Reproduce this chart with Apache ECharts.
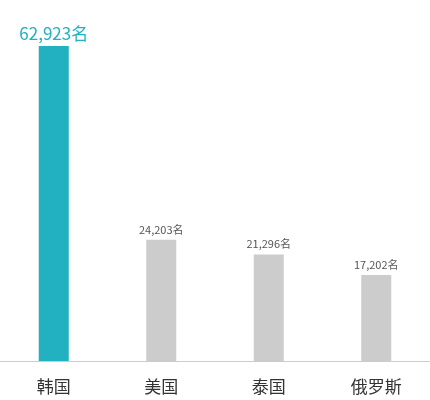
<!DOCTYPE html>
<html style="height: 100%">
<head>
    <meta charset="utf-8">
</head>
<body style="height: 100%; margin: 0">
    <div id="container" style="height: 100%"></div>
    <script type="text/javascript" src="https://cdn.jsdelivr.net/npm/echarts@6/dist/echarts.min.js"></script>
    <script type="text/javascript">
        var countries = ['韩国', '美国', '泰国', '俄罗斯'];
        var visitors = [62923, 24203, 21296, 17202];
        var barColors = ['#21b1c1', '#cccccc', '#cccccc', '#cccccc'];

        var myChart = echarts.init(document.getElementById('container'));

        function fmt(v) {
            return String(v).replace(/\B(?=(\d{3})+(?!\d))/g, ',') + '名';
        }

        var option = {
            animation: false,
            textStyle: { fontFamily: 'Noto Sans CJK SC, Noto Sans, sans-serif' },
            grid: { left: 0, right: 0, top: 46, bottom: 39, containLabel: false },
            xAxis: {
                type: 'category',
                data: countries,
                axisLine: { lineStyle: { color: '#cccccc', width: 1 } },
                axisTick: { show: false },
                axisLabel: { color: '#333333', fontSize: 17, margin: 17 }
            },
            yAxis: {
                type: 'value',
                min: 0,
                max: 'dataMax',
                show: false,
                splitLine: { show: false }
            },
            series: [{
                type: 'bar',
                barWidth: 30,
                data: visitors.map(function (v, i) {
                    var first = i === 0;
                    return {
                        value: v,
                        itemStyle: { color: barColors[i] },
                        label: {
                            show: true,
                            position: 'top',
                            distance: first ? 4 : 5,
                            color: first ? '#21b1c1' : '#555555',
                            fontSize: first ? 17 : 11,
                            formatter: function (p) { return fmt(p.value); }
                        }
                    };
                })
            }]
        };

        myChart.setOption(option);
    </script>
</body>
</html>
